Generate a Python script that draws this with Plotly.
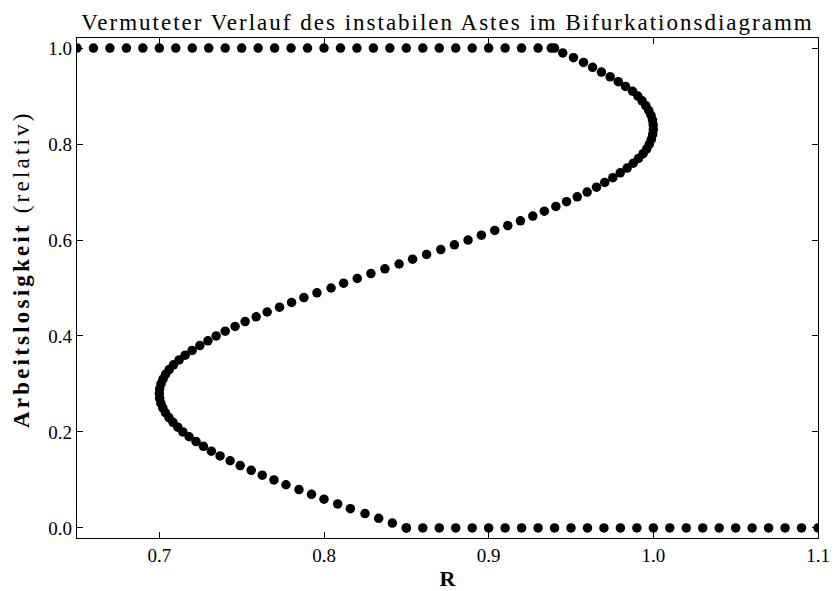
import plotly.graph_objects as go

# Upper stable branch (y = 1)
top_x = [0.65, 0.66, 0.67, 0.68, 0.69, 0.70, 0.71, 0.72, 0.73, 0.74,
         0.75, 0.76, 0.77, 0.78, 0.79, 0.80, 0.81, 0.82, 0.83, 0.84,
         0.85, 0.86, 0.87, 0.88, 0.89, 0.90, 0.91, 0.92, 0.93, 0.94]
top_y = [1.0, 1.0, 1.0, 1.0, 1.0, 1.0, 1.0, 1.0, 1.0, 1.0,
         1.0, 1.0, 1.0, 1.0, 1.0, 1.0, 1.0, 1.0, 1.0, 1.0,
         1.0, 1.0, 1.0, 1.0, 1.0, 1.0, 1.0, 1.0, 1.0, 1.0]

# Lower stable branch (y = 0)
bottom_x = [0.85, 0.86, 0.87, 0.88, 0.89, 0.90, 0.91, 0.92, 0.93, 0.94,
            0.95, 0.96, 0.97, 0.98, 0.99, 1.00, 1.01, 1.02, 1.03, 1.04,
            1.05, 1.06, 1.07, 1.08, 1.09, 1.10]
bottom_y = [0.0, 0.0, 0.0, 0.0, 0.0, 0.0, 0.0, 0.0, 0.0, 0.0,
            0.0, 0.0, 0.0, 0.0, 0.0, 0.0, 0.0, 0.0, 0.0, 0.0,
            0.0, 0.0, 0.0, 0.0, 0.0, 0.0]

# Unstable S-shaped branch
curve_y = [0.00, 0.01, 0.02, 0.03, 0.04, 0.05, 0.06, 0.07, 0.08, 0.09,
           0.10, 0.11, 0.12, 0.13, 0.14, 0.15, 0.16, 0.17, 0.18, 0.19,
           0.20, 0.21, 0.22, 0.23, 0.24, 0.25, 0.26, 0.27, 0.28, 0.29,
           0.30, 0.31, 0.32, 0.33, 0.34, 0.35, 0.36, 0.37, 0.38, 0.39,
           0.40, 0.41, 0.42, 0.43, 0.44, 0.45, 0.46, 0.47, 0.48, 0.49,
           0.50, 0.51, 0.52, 0.53, 0.54, 0.55, 0.56, 0.57, 0.58, 0.59,
           0.60, 0.61, 0.62, 0.63, 0.64, 0.65, 0.66, 0.67, 0.68, 0.69,
           0.70, 0.71, 0.72, 0.73, 0.74, 0.75, 0.76, 0.77, 0.78, 0.79,
           0.80, 0.81, 0.82, 0.83, 0.84, 0.85, 0.86, 0.87, 0.88, 0.89,
           0.90, 0.91, 0.92, 0.93, 0.94, 0.95, 0.96, 0.97, 0.98, 0.99,
           1.00]
curve_x = [0.8500, 0.8415, 0.8332, 0.8249, 0.8160, 0.8083, 0.8000, 0.7924, 0.7848, 0.7769,
           0.7696, 0.7625, 0.7558, 0.7491, 0.7430, 0.7369, 0.7316, 0.7268, 0.7223, 0.7181,
           0.7143, 0.7112, 0.7083, 0.7058, 0.7037, 0.7021, 0.7009, 0.7002, 0.7000, 0.7002,
           0.7010, 0.7022, 0.7038, 0.7060, 0.7086, 0.7120, 0.7157, 0.7199, 0.7246, 0.7295,
           0.7345, 0.7400, 0.7460, 0.7521, 0.7588, 0.7655, 0.7730, 0.7803, 0.7878, 0.7957,
           0.8043, 0.8119, 0.8202, 0.8285, 0.8370, 0.8456, 0.8538, 0.8623, 0.8709, 0.8792,
           0.8875, 0.8956, 0.9037, 0.9116, 0.9193, 0.9268, 0.9338, 0.9408, 0.9473, 0.9538,
           0.9598, 0.9655, 0.9705, 0.9754, 0.9799, 0.9841, 0.9878, 0.9910, 0.9938, 0.9960,
           0.9976, 0.9988, 0.9996, 1.0000, 0.9999, 0.9995, 0.9986, 0.9972, 0.9954, 0.9932,
           0.9906, 0.9874, 0.9831, 0.9787, 0.9738, 0.9685, 0.9631, 0.9576, 0.9515, 0.9450,
           0.9380]

x_ticks = [0.7, 0.8, 0.9, 1.0, 1.1]
y_ticks = [0.0, 0.2, 0.4, 0.6, 0.8, 1.0]

FONT = "Liberation Serif"
marker = dict(color="black", size=9.5, line=dict(width=0))

fig = go.Figure()
for xs, ys in [(top_x, top_y), (curve_x, curve_y), (bottom_x, bottom_y)]:
    fig.add_trace(go.Scatter(x=xs, y=ys, mode="markers", marker=marker,
                             showlegend=False, cliponaxis=True))

axis_common = dict(
    showgrid=False, zeroline=False, showline=True, linecolor="black",
    linewidth=1.3, mirror="ticks", ticks="inside", ticklen=6, tickwidth=1,
    tickcolor="black", tickformat=".1f",
    tickfont=dict(family=FONT, size=19, color="black"),
)

fig.update_xaxes(range=[0.65, 1.1], tickvals=x_ticks,
                 title=dict(text="<b>R</b>", font=dict(family=FONT, size=22, color="black"),
                            standoff=19),
                 **axis_common)
fig.update_yaxes(range=[-0.021, 1.021], tickvals=y_ticks, **axis_common)

# y-axis title placed as a rotated annotation
fig.add_annotation(
    text='<span style="letter-spacing:3.2px"><b>Arbeitslosigkeit</b> (relativ)</span>',
    xref="paper", yref="paper", x=(21 - 77) / 741, y=(538 - 269) / 500,
    xanchor="center", yanchor="middle", textangle=-90, showarrow=False,
    font=dict(family=FONT, size=23, color="black"),
)

fig.update_layout(
    width=833, height=591,
    font=dict(family=FONT, color="black"),
    margin=dict(l=77, r=15, t=38, b=53, autoexpand=False),
    plot_bgcolor="white", paper_bgcolor="white",
    title=dict(text='<span style="letter-spacing:2px">Vermuteter Verlauf des instabilen Astes im Bifurkationsdiagramm</span>',
               font=dict(family=FONT, size=23, color="black"),
               x=0.5, xref="paper", xanchor="center",
               y=1 - 22 / 591, yref="container", yanchor="middle"),
)

fig.write_html("out.html")
